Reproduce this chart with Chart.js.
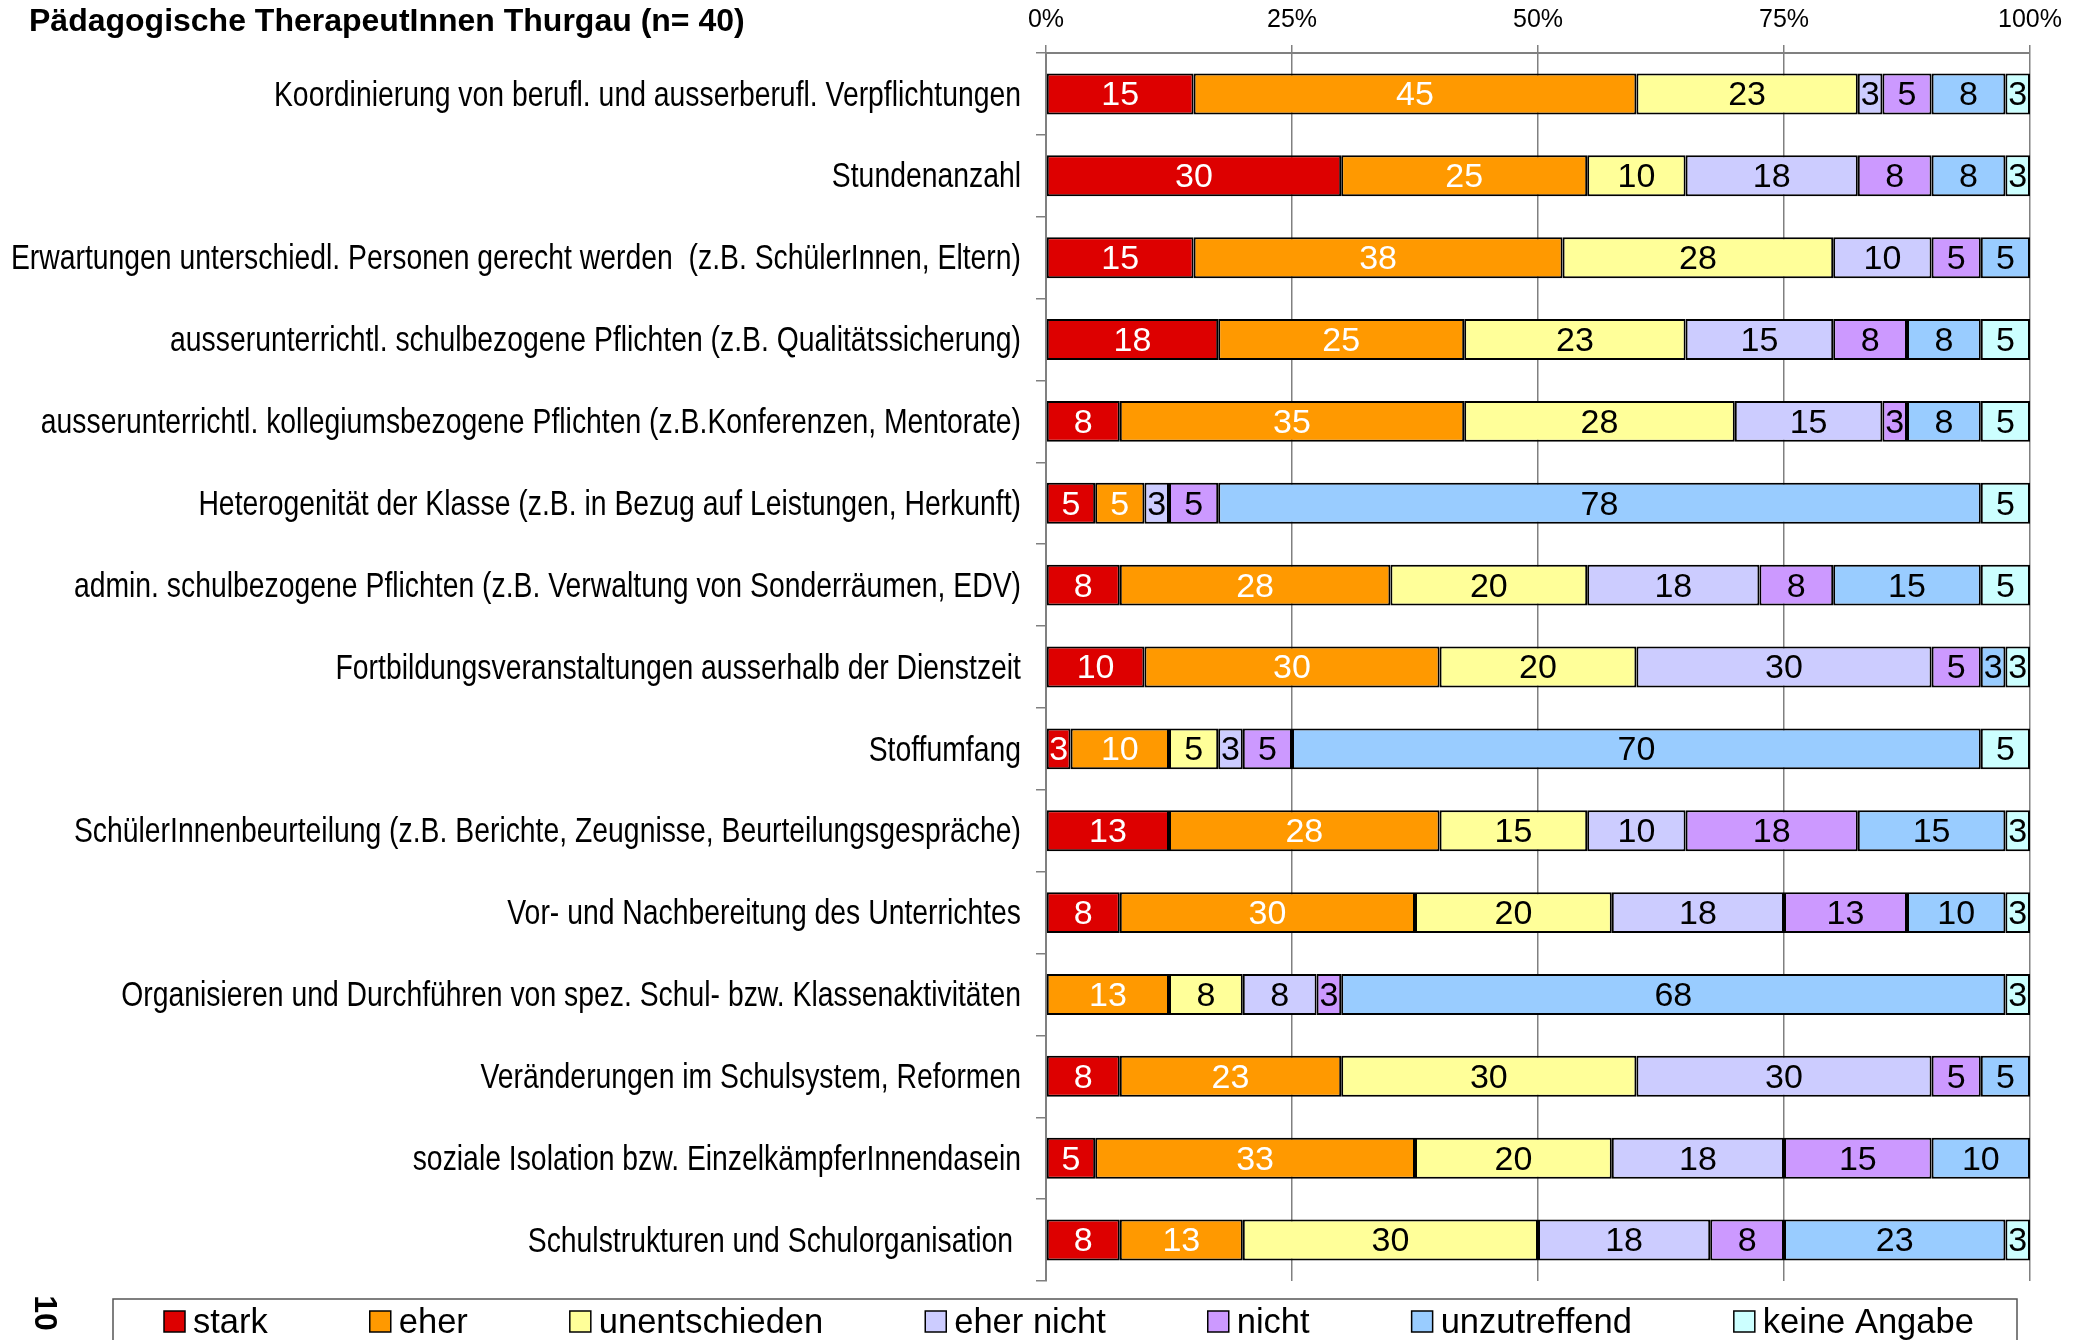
<!DOCTYPE html>
<html>
<head>
<meta charset="utf-8">
<script src="https://cdn.jsdelivr.net/npm/chart.js@4.4.0/dist/chart.umd.min.js"></script>
<style>
  html, body { margin: 0; padding: 0; background: #ffffff; }
  #wrap { width: 2085px; height: 1340px; }
</style>
</head>
<body>
<div id="wrap"><canvas id="belastung" width="2085" height="1340"></canvas></div>
<script>
const chartTitle = 'Pädagogische TherapeutInnen Thurgau (n= 40)';
const pageNumber = '10';

const categories = [
    'Koordinierung von berufl. und ausserberufl. Verpflichtungen',
    'Stundenanzahl',
    'Erwartungen unterschiedl. Personen gerecht werden  (z.B. SchülerInnen, Eltern)',
    'ausserunterrichtl. schulbezogene Pflichten (z.B. Qualitätssicherung)',
    'ausserunterrichtl. kollegiumsbezogene Pflichten (z.B.Konferenzen, Mentorate)',
    'Heterogenität der Klasse (z.B. in Bezug auf Leistungen, Herkunft)',
    'admin. schulbezogene Pflichten (z.B. Verwaltung von Sonderräumen, EDV)',
    'Fortbildungsveranstaltungen ausserhalb der Dienstzeit',
    'Stoffumfang',
    'SchülerInnenbeurteilung (z.B. Berichte, Zeugnisse, Beurteilungsgespräche)',
    'Vor- und Nachbereitung des Unterrichtes',
    'Organisieren und Durchführen von spez. Schul- bzw. Klassenaktivitäten',
    'Veränderungen im Schulsystem, Reformen',
    'soziale Isolation bzw. EinzelkämpferInnendasein',
    'Schulstrukturen und Schulorganisation '
];

// percent of n=40 answers per category
const stark         = [15, 30, 15, 17.5, 7.5, 5, 7.5, 10, 2.5, 12.5, 7.5, 0, 7.5, 5, 7.5];
const eher          = [45, 25, 37.5, 25, 35, 5, 27.5, 30, 10, 27.5, 30, 12.5, 22.5, 32.5, 12.5];
const unentschieden = [22.5, 10, 27.5, 22.5, 27.5, 0, 20, 20, 5, 15, 20, 7.5, 30, 20, 30];
const eherNicht     = [2.5, 17.5, 10, 15, 15, 2.5, 17.5, 30, 2.5, 10, 17.5, 7.5, 30, 17.5, 17.5];
const nicht         = [5, 7.5, 5, 7.5, 2.5, 5, 7.5, 5, 5, 17.5, 12.5, 2.5, 5, 15, 7.5];
const unzutreffend  = [7.5, 7.5, 5, 7.5, 7.5, 77.5, 15, 2.5, 70, 15, 10, 67.5, 5, 10, 22.5];
const keineAngabe   = [2.5, 2.5, 0, 5, 5, 5, 5, 2.5, 5, 2.5, 2.5, 2.5, 0, 0, 2.5];

const seriesNames = ['stark', 'eher', 'unentschieden', 'eher nicht', 'nicht', 'unzutreffend', 'keine Angabe'];
const seriesData = [stark, eher, unentschieden, eherNicht, nicht, unzutreffend, keineAngabe];
const seriesColors = ['#DD0000', '#FF9900', '#FFFF99', '#CCCCFF', '#CC99FF', '#99CCFF', '#CCFFFF'];
const labelColors = ['#ffffff', '#ffffff', '#000000', '#000000', '#000000', '#000000', '#000000'];

const xTicks = [0, 25, 50, 75, 100];

const plainFont = '"Liberation Sans", Arial, sans-serif';

// numbers inside the bars
const valueLabels = {
    id: 'valueLabels',
    afterDatasetsDraw(chart){
        const ctx = chart.ctx;
        ctx.save();
        ctx.font = '34px ' + plainFont;
        ctx.textAlign = 'center';
        ctx.textBaseline = 'middle';
        chart.data.datasets.forEach((ds, i) => {
            const meta = chart.getDatasetMeta(i);
            meta.data.forEach((bar, j) => {
                const v = ds.data[j];
                if (!v) return;
                ctx.fillStyle = labelColors[i];
                ctx.fillText(String(Math.round(v)), (bar.x + bar.base) / 2, bar.y + 2);
            });
        });
        ctx.restore();
    }
};

// category names in a condensed face (no narrow font installed, so squeeze Liberation Sans)
const narrowLabels = {
    id: 'narrowLabels',
    afterDraw(chart){
        const ctx = chart.ctx;
        const yScale = chart.scales.y;
        ctx.save();
        ctx.fillStyle = '#000';
        ctx.font = '35px ' + plainFont;
        ctx.textAlign = 'right';
        ctx.textBaseline = 'middle';
        yScale.ticks.forEach((t, i) => {
            const y = yScale.getPixelForTick(i);
            ctx.save();
            ctx.translate(yScale.right - 25, y + 2);
            ctx.scale(0.81, 1);
            ctx.fillText(chart.data.labels[i], 0, 0);
            ctx.restore();
        });
        ctx.restore();
    }
};

// title, page number and the boxed legend at the bottom
const decorations = {
    id: 'decorations',
    afterDraw(chart){
        const ctx = chart.ctx;
        ctx.save();
        ctx.fillStyle = '#000';
        ctx.font = 'bold 32px ' + plainFont;
        ctx.textBaseline = 'middle';
        ctx.textAlign = 'left';
        ctx.fillText(chartTitle, 29, 22);

        // rotated page number
        ctx.save();
        ctx.translate(44, 1313);
        ctx.rotate(Math.PI / 2);
        ctx.textAlign = 'center';
        ctx.font = 'bold 32px ' + plainFont;
        ctx.fillText(pageNumber, 0, 0);
        ctx.restore();

        // legend frame
        ctx.strokeStyle = '#555';
        ctx.lineWidth = 1.5;
        ctx.strokeRect(113, 1299, 2017 - 113, 80);

        ctx.font = '34.5px ' + plainFont;
        let x = 164;
        const y = 1321;
        seriesNames.forEach((name, i) => {
            ctx.fillStyle = seriesColors[i];
            ctx.fillRect(x, y - 10, 21, 21);
            ctx.strokeStyle = '#000';
            ctx.lineWidth = 1.5;
            ctx.strokeRect(x, y - 10, 21, 21);
            ctx.fillStyle = '#000';
            ctx.fillText(name, x + 29, y + 2);
            x += 29 + ctx.measureText(name).width + 102;
        });
        ctx.restore();
    }
};

const datasets = seriesNames.map((name, i) => ({
    label: name,
    data: seriesData[i],
    backgroundColor: seriesColors[i],
    borderColor: '#000000',
    borderWidth: 2,
    borderSkipped: false,
    barPercentage: 0.5,
    categoryPercentage: 1.0
}));

new Chart(document.getElementById('belastung'), {
    type: 'bar',
    data: {
        labels: categories,
        datasets: datasets
    },
    options: {
        indexAxis: 'y',
        responsive: false,
        animation: false,
        devicePixelRatio: 1,
        layout: {
            padding: {top: 0, left: 0, right: 55, bottom: 59}
        },
        scales: {
            x: {
                position: 'top',
                stacked: true,
                min: 0,
                max: 100,
                afterBuildTicks: function(scale){
                    scale.ticks = xTicks.map(v => ({value: v}));
                },
                afterFit: function(scale){
                    scale.height = 53;
                },
                ticks: {
                    padding: 10,
                    color: '#000',
                    font: {family: plainFont, size: 25},
                    callback: function(val){
                        return val + '%';
                    }
                },
                grid: {
                    color: '#808080',
                    lineWidth: 1.5,
                    tickLength: 8
                },
                border: {
                    color: '#808080',
                    width: 2
                }
            },
            y: {
                stacked: true,
                afterFit: function(scale){
                    scale.width = 1046;
                },
                ticks: {
                    display: false,
                    autoSkip: false
                },
                grid: {
                    drawOnChartArea: false,
                    color: '#808080',
                    lineWidth: 1.5,
                    tickLength: 10
                },
                border: {
                    color: '#808080',
                    width: 2
                }
            }
        },
        plugins: {
            legend: {display: false},
            title: {display: false},
            tooltip: {enabled: false}
        }
    },
    plugins: [valueLabels, narrowLabels, decorations]
});
</script>
</body>
</html>
